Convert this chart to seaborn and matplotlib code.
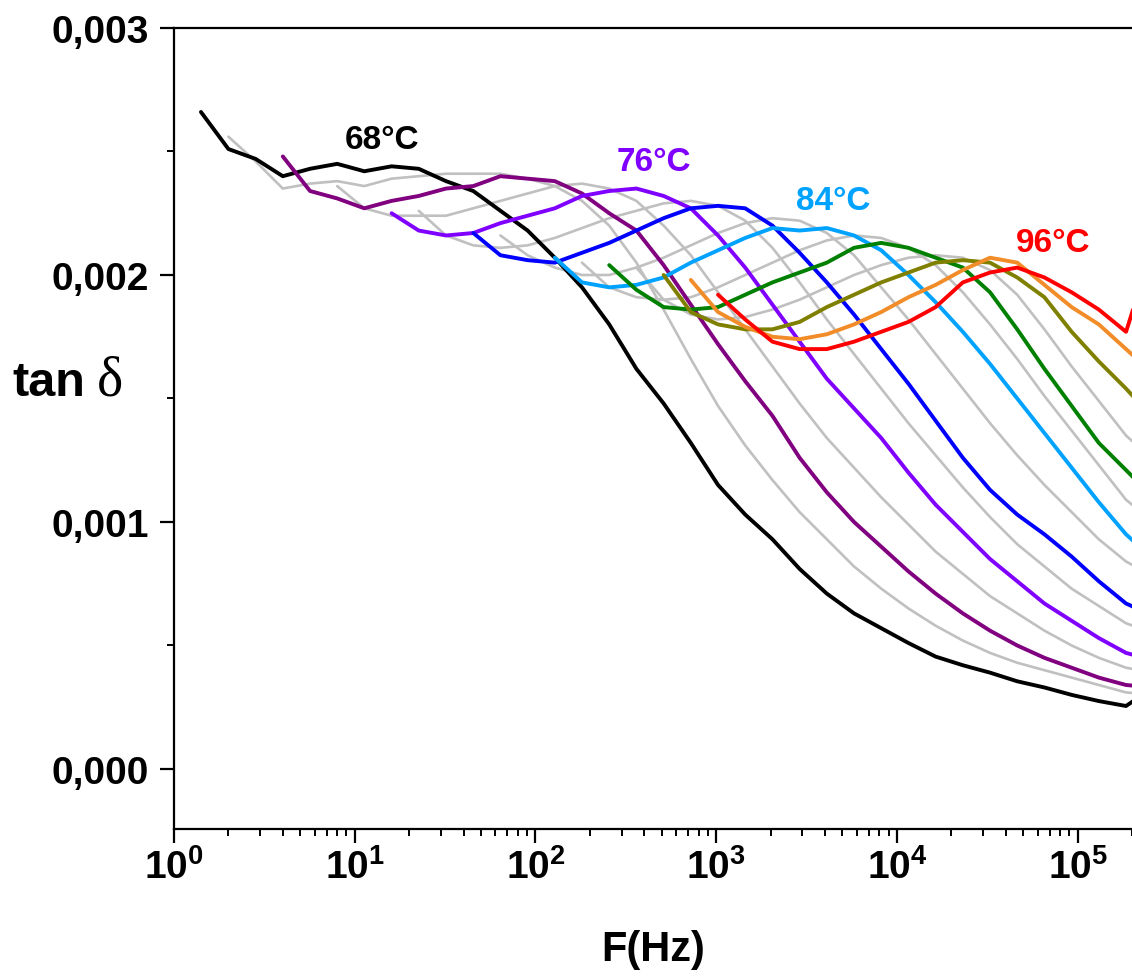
import numpy as np
import pandas as pd
import matplotlib
matplotlib.use('Agg')
import matplotlib.pyplot as plt
import matplotlib.ticker as mticker
import seaborn as sns

nan = np.nan

# measurement frequencies (Hz)
freq = [1.41, 2, 2.83, 4, 5.66, 8, 11.3, 16, 22.6, 32, 45.3, 64, 90.5, 128,
        181, 256, 362, 512, 724, 1024, 1448, 2048, 2896, 4096, 5793, 8192,
        11585, 16384, 23170, 32768, 46341, 65536, 92682, 131072, 185364, 262144]

# tan delta values, in units of 1e-3
tan_68 = [2.66, 2.51, 2.47, 2.40, 2.43, 2.45, 2.42, 2.44, 2.43, 2.38, 2.34, 2.26,
          2.18, 2.07, 1.95, 1.80, 1.62, 1.48, 1.32, 1.15, 1.03, 0.93, 0.81, 0.71,
          0.63, 0.57, 0.51, 0.455, 0.42, 0.39, 0.355, 0.33, 0.30, 0.275, 0.255, 0.33]
tan_70 = [nan, 2.56, 2.46, 2.35, 2.37, 2.38, 2.36, 2.39, 2.40, 2.41, 2.41, 2.41,
          2.39, 2.36, 2.30, 2.20, 2.05, 1.86, 1.66, 1.47, 1.31, 1.17, 1.04, 0.93,
          0.82, 0.73, 0.65, 0.58, 0.52, 0.47, 0.43, 0.40, 0.37, 0.34, 0.31, 0.30]
tan_72 = [nan, nan, nan, 2.48, 2.34, 2.31, 2.27, 2.30, 2.32, 2.35, 2.36, 2.40,
          2.39, 2.38, 2.33, 2.25, 2.18, 2.04, 1.88, 1.72, 1.57, 1.43, 1.26, 1.12,
          1.00, 0.90, 0.80, 0.71, 0.63, 0.56, 0.50, 0.45, 0.41, 0.37, 0.34, 0.33]
tan_74 = [nan, nan, nan, nan, nan, 2.36, 2.27, 2.24, 2.24, 2.24, 2.27, 2.30,
          2.33, 2.36, 2.37, 2.35, 2.30, 2.20, 2.08, 1.93, 1.78, 1.63, 1.48, 1.34,
          1.22, 1.10, 0.99, 0.88, 0.79, 0.70, 0.63, 0.56, 0.50, 0.45, 0.41, 0.39]
tan_76 = [nan, nan, nan, nan, nan, nan, nan, 2.25, 2.18, 2.16, 2.17, 2.21,
          2.24, 2.27, 2.32, 2.34, 2.35, 2.32, 2.27, 2.16, 2.03, 1.88, 1.73, 1.58,
          1.46, 1.34, 1.20, 1.07, 0.96, 0.85, 0.76, 0.67, 0.60, 0.53, 0.47, 0.44]
tan_78 = [nan, nan, nan, nan, nan, nan, nan, nan, 2.26, 2.16, 2.12, 2.11,
          2.12, 2.15, 2.19, 2.23, 2.26, 2.29, 2.30, 2.28, 2.22, 2.11, 1.97, 1.82,
          1.68, 1.54, 1.40, 1.27, 1.14, 1.02, 0.91, 0.82, 0.73, 0.66, 0.59, 0.55]
tan_80 = [nan, nan, nan, nan, nan, nan, nan, nan, nan, nan, 2.17, 2.08,
          2.06, 2.05, 2.09, 2.13, 2.18, 2.23, 2.27, 2.28, 2.27, 2.20, 2.09, 1.97,
          1.84, 1.70, 1.56, 1.41, 1.26, 1.13, 1.03, 0.95, 0.86, 0.76, 0.67, 0.62]
tan_82 = [nan, nan, nan, nan, nan, nan, nan, nan, nan, nan, nan, 2.16,
          2.08, 2.03, 2.00, 2.00, 2.03, 2.07, 2.12, 2.17, 2.21, 2.23, 2.22, 2.17,
          2.08, 1.95, 1.82, 1.68, 1.54, 1.40, 1.27, 1.15, 1.04, 0.93, 0.84, 0.78]
tan_84 = [nan, nan, nan, nan, nan, nan, nan, nan, nan, nan, nan, nan,
          nan, 2.07, 1.97, 1.95, 1.96, 1.99, 2.05, 2.10, 2.15, 2.19, 2.18, 2.19,
          2.16, 2.10, 2.00, 1.89, 1.77, 1.64, 1.50, 1.36, 1.22, 1.08, 0.95, 0.85]
tan_86 = [nan, nan, nan, nan, nan, nan, nan, nan, nan, nan, nan, nan,
          nan, nan, 2.05, 1.95, 1.91, 1.90, 1.91, 1.95, 2.00, 2.05, 2.10, 2.14,
          2.16, 2.15, 2.11, 2.04, 1.93, 1.80, 1.66, 1.51, 1.37, 1.23, 1.09, 1.00]
tan_88 = [nan, nan, nan, nan, nan, nan, nan, nan, nan, nan, nan, nan,
          nan, nan, nan, 2.04, 1.94, 1.87, 1.86, 1.87, 1.92, 1.97, 2.01, 2.05,
          2.11, 2.13, 2.11, 2.07, 2.03, 1.93, 1.78, 1.62, 1.47, 1.32, 1.21, 1.10]
tan_90 = [nan, nan, nan, nan, nan, nan, nan, nan, nan, nan, nan, nan,
          nan, nan, nan, nan, 2.03, 1.90, 1.84, 1.82, 1.83, 1.86, 1.90, 1.95,
          2.00, 2.04, 2.07, 2.08, 2.07, 2.02, 1.92, 1.78, 1.63, 1.49, 1.35, 1.25]
tan_92 = [nan, nan, nan, nan, nan, nan, nan, nan, nan, nan, nan, nan,
          nan, nan, nan, nan, nan, 2.00, 1.85, 1.80, 1.78, 1.78, 1.81, 1.87,
          1.92, 1.97, 2.01, 2.05, 2.06, 2.05, 1.99, 1.91, 1.77, 1.65, 1.54, 1.42]
tan_94 = [nan, nan, nan, nan, nan, nan, nan, nan, nan, nan, nan, nan,
          nan, nan, nan, nan, nan, nan, 1.98, 1.85, 1.79, 1.75, 1.74, 1.76,
          1.80, 1.85, 1.91, 1.96, 2.02, 2.07, 2.05, 1.96, 1.87, 1.80, 1.70, 1.60]
tan_96 = [nan, nan, nan, nan, nan, nan, nan, nan, nan, nan, nan, nan,
          nan, nan, nan, nan, nan, nan, nan, 1.92, 1.82, 1.73, 1.70, 1.70,
          1.73, 1.77, 1.81, 1.87, 1.97, 2.01, 2.03, 1.99, 1.93, 1.86, 1.77, 2.12]

curves = {68: tan_68, 70: tan_70, 72: tan_72, 74: tan_74, 76: tan_76,
          78: tan_78, 80: tan_80, 82: tan_82, 84: tan_84, 86: tan_86,
          88: tan_88, 90: tan_90, 92: tan_92, 94: tan_94, 96: tan_96}

grey_temps = [70, 74, 78, 82, 86, 90]
colours = {68: '#000000', 72: '#800080', 76: '#8000FF', 80: '#0000FF',
           84: '#00A2FF', 88: '#008000', 92: '#808000', 94: '#F28C28',
           96: '#FF0000'}

# curve labels: text, frequency, tan delta
label_text = ['68°C', '76°C', '84°C', '96°C']
label_freq = [14.2, 451, 4420, 73100]
label_tan = [2.55e-3, 2.46e-3, 2.30e-3, 2.13e-3]
label_col = ['#000000', '#8000FF', '#00A2FF', '#FF0000']

# long table
frames = []
for t, vals in curves.items():
    frames.append(pd.DataFrame({'freq': freq,
                                'tan': np.array(vals, dtype=float) * 1e-3,
                                'temp': t}))
data = pd.concat(frames).dropna()

# style
sns.set_style('ticks')
plt.rcParams['font.family'] = ['Liberation Sans', 'DejaVu Sans']
plt.rcParams['font.weight'] = 'bold'
plt.rcParams['mathtext.fontset'] = 'custom'
plt.rcParams['mathtext.bf'] = 'Liberation Sans:bold'
plt.rcParams['mathtext.rm'] = 'Liberation Sans:bold'
for key in ['text.color', 'axes.labelcolor', 'xtick.color', 'ytick.color',
            'axes.edgecolor']:
    plt.rcParams[key] = 'black'

fig = plt.figure(figsize=(11.32, 9.79), dpi=100)
ax = fig.add_axes([174 / 1132, 1 - 830 / 979, 958 / 1132, 801 / 979])
ax.set_xscale('log')

sns.lineplot(data=data[data['temp'].isin(grey_temps)], x='freq', y='tan',
             hue='temp', palette={t: '#C0C0C0' for t in grey_temps},
             estimator=None, lw=1.9, legend=False, ax=ax)
sns.lineplot(data=data[data['temp'].isin(colours.keys())], x='freq', y='tan',
             hue='temp', palette=colours,
             estimator=None, lw=2.8, legend=False, ax=ax)

for txt, fx, fy, c in zip(label_text, label_freq, label_tan, label_col):
    ax.text(fx, fy, txt, color=c, fontsize=24, fontweight='bold',
            ha='center', va='center')

ax.set_xlim(1, 2e5)
ax.set_ylim(-0.000243, 0.003)

ax.xaxis.set_major_locator(mticker.LogLocator(base=10, numticks=10))
ax.xaxis.set_minor_locator(mticker.LogLocator(base=10, subs=np.arange(2, 10), numticks=20))
ax.xaxis.set_minor_formatter(mticker.NullFormatter())
ax.xaxis.set_major_formatter(mticker.FuncFormatter(
    lambda v, p: r'$\mathbf{10^{%d}}$' % round(np.log10(v))))
ax.yaxis.set_major_locator(mticker.MultipleLocator(0.001))
ax.yaxis.set_minor_locator(mticker.MultipleLocator(0.0005))
ax.yaxis.set_major_formatter(mticker.FuncFormatter(
    lambda v, p: f'{v:.3f}'.replace('.', ',')))

ax.tick_params(axis='both', which='major', direction='out', length=10,
               width=1.6, labelsize=28)
ax.tick_params(axis='y', which='major', pad=8)
ax.tick_params(axis='x', which='major', pad=4)
ax.tick_params(axis='both', which='minor', direction='out', length=5, width=1.4)
ax.tick_params(top=False, right=False)

for s in ['left', 'bottom', 'top']:
    ax.spines[s].set_linewidth(1.6)
ax.spines['right'].set_visible(False)

ax.set_xlabel('F(Hz)', fontsize=30, fontweight='bold', labelpad=31)
ax.set_ylabel('')
fig.text(12 / 1132, 1 - 396 / 979, 'tan', fontsize=35, fontweight='bold',
         ha='left', va='baseline')
fig.text(97 / 1132, 1 - 396 / 979, 'δ', fontsize=40, fontweight='normal',
         family='Liberation Serif', ha='left', va='baseline')

plt.savefig('out.png', dpi=100)
